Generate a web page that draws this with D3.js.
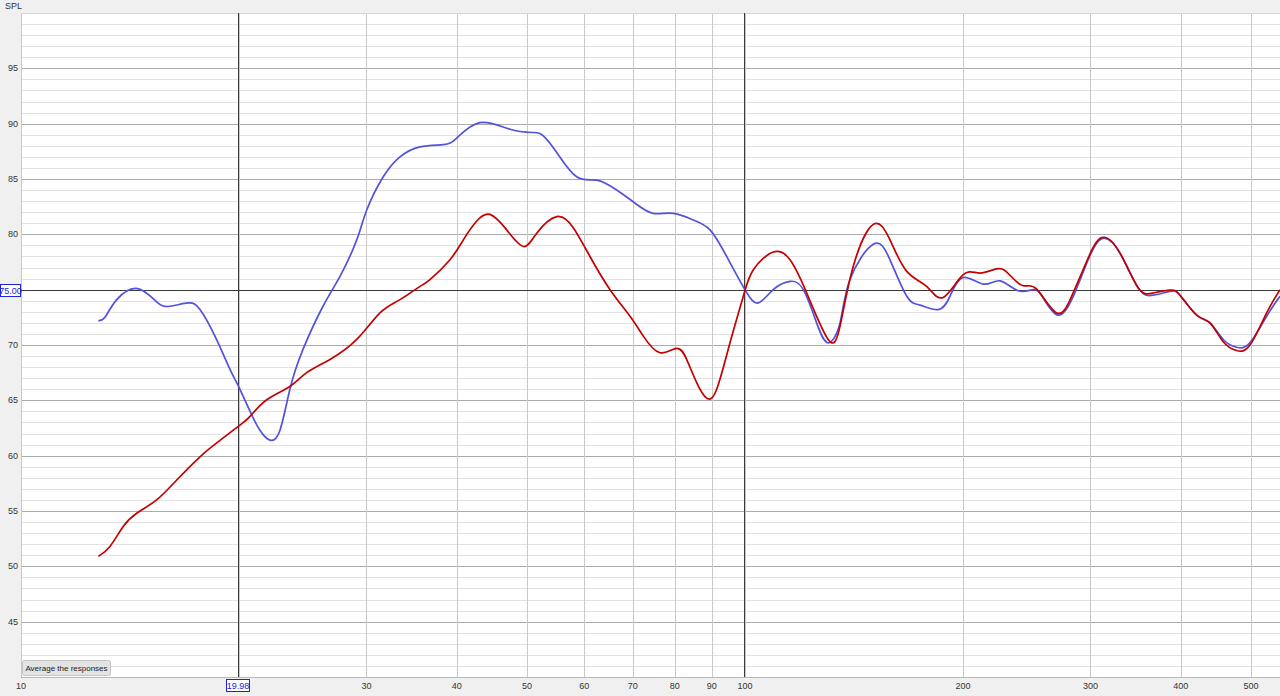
<!DOCTYPE html>
<html>
<head>
<meta charset="utf-8">
<script src="https://cdn.jsdelivr.net/npm/d3@7"></script>
<style>
  html, body { margin: 0; padding: 0; background: #f0f0f0; }
  svg { display: block; }
  text { font-family: "Liberation Sans", Arial, sans-serif; }
</style>
</head>
<body>
<svg id="chart" width="1280" height="696"></svg>
<script>
// ---- data ----
const blueFreq = [12.79,13.06,13.56,14.49,15.39,16.06,17.02,17.67,18.53,19.44,19.96,20.72,21.38,22.08,22.79,23.52,24.52,26.13,27.58,29.09,30.03,31.65,33.38,35.57,38.31,39.98,43.05,47.35,51.01,52.66,54.95,58.55,62.40,66.50,70.88,74.70,79.61,84.84,89.48,94.35,100,104.3,109.4,115.4,120.4,125.6,130.3,135.3,139.6,150.4,158.6,167.3,174.5,184.9,191.9,200.2,213.4,225.0,238.5,250.2,258.2,270.8,284.1,296.5,310.9,329.6,349.4,366.4,386.4,398.9,420.6,438.8,457.7,477.6,498.3,525.5,548.3];
const blueSpl  = [72.2,72.5,74.1,75.1,73.9,73.5,73.8,73.2,70.8,67.8,66.3,64.0,62.3,61.4,62.3,66.0,69.6,73.5,76.2,79.5,82.2,85.2,87.0,87.9,88.1,88.7,90.1,89.5,89.2,88.9,87.4,85.2,84.9,84.0,82.7,81.9,81.9,81.3,80.4,78.0,75.0,73.8,75.0,75.75,75.0,72.0,70.2,72.0,75.9,79.1,77.7,74.4,73.6,73.2,74.4,76.1,75.5,75.8,74.9,75.0,74.25,72.7,74.4,77.4,79.6,78.3,75.15,74.5,74.85,74.5,72.7,72.0,70.5,69.8,70.2,72.6,74.4];

const redFreq = [12.79,13.27,13.84,14.45,15.39,16.41,17.67,18.63,19.96,20.72,21.85,23.52,24.81,26.72,29.09,31.32,33.38,35.57,36.72,39.13,40.83,42.61,44.45,46.87,49.42,51.56,54.95,57.92,61.08,65.11,69.38,72.38,76.30,80.48,83.07,85.76,88.52,91.40,95.35,99.47,102.7,109.4,115.4,121.7,130.3,135.3,141.1,150.4,158.6,167.3,178.2,187.9,200.2,211.2,223.8,232.3,242.3,252.9,269.5,282.6,296.5,310.9,329.6,349.4,366.4,386.4,398.9,420.6,438.8,457.7,477.6,498.3,525.5,548.3];
const redSpl  = [50.9,51.8,53.6,54.8,56.0,57.8,59.9,61.15,62.65,63.55,65.05,66.25,67.5,68.7,70.5,72.9,74.1,75.3,75.9,77.7,79.5,81.2,81.8,80.4,78.9,80.1,81.6,80.6,78.0,75.0,72.6,70.8,69.3,69.7,68.7,66.6,65.2,66.0,70.2,74.4,76.8,78.4,77.7,74.7,70.5,71.7,77.1,80.9,79.5,76.65,75.3,74.3,76.35,76.5,76.9,76.3,75.35,75.05,72.9,74.4,77.55,79.7,78.3,75.15,74.7,74.95,74.5,72.7,72.0,70.3,69.5,70.0,72.9,75.0];

const yLabelTicks = [45,50,55,60,65,70,80,85,90,95];
const xGridTicks = [10,20,30,40,50,60,70,80,90,100,200,300,400,500];
const xLabelTicks = [10,30,40,50,60,70,80,90,100,200,300,400,500];
const cursorFreqs = [19.98, 100];
const cursorSpl = 75;
const yLabel = "SPL";
const buttonText = "Average the responses";

// ---- layout ----
const svg = d3.select("#chart");
const L = 21, R = 1280, T = 13, B = 677;
const x = d3.scaleLog().domain([10, 548.3]).range([L, R]);
const y = d3.scaleLinear().domain([40, 100]).range([B, T]);

svg.append("rect").attr("width", 1280).attr("height", 696).attr("fill", "#f0f0f0");
svg.append("rect").attr("x", L).attr("y", T).attr("width", R - L).attr("height", B - T).attr("fill", "#ffffff");

svg.append("defs").append("clipPath").attr("id", "clip")
  .append("rect").attr("x", L).attr("y", T).attr("width", R - L).attr("height", B - T);

const grid = svg.append("g").attr("clip-path", "url(#clip)");
grid.selectAll("line.hmin").data(d3.range(41, 100)).enter().append("line")
  .attr("x1", L).attr("x2", R)
  .attr("y1", d => Math.round(y(d)) + 0.5).attr("y2", d => Math.round(y(d)) + 0.5)
  .attr("stroke", d => d % 5 === 0 ? "#ababab" : "#e2e2e2").attr("stroke-width", 1);
grid.selectAll("line.v").data(xGridTicks).enter().append("line")
  .attr("x1", d => Math.round(x(d)) + 0.5).attr("x2", d => Math.round(x(d)) + 0.5)
  .attr("y1", T).attr("y2", B)
  .attr("stroke", "#c9c9c9").attr("stroke-width", 1);

svg.append("line").attr("x1", L + 0.5).attr("x2", L + 0.5).attr("y1", T).attr("y2", B).attr("stroke", "#c8c8c8");
svg.append("line").attr("x1", L).attr("x2", R).attr("y1", T + 0.5).attr("y2", T + 0.5).attr("stroke", "#d8d8d8");
svg.append("line").attr("x1", L).attr("x2", R).attr("y1", B + 0.5).attr("y2", B + 0.5).attr("stroke", "#b8b8b8");

const cur = svg.append("g").attr("clip-path", "url(#clip)");
cur.selectAll("line.cv").data(cursorFreqs).enter().append("line")
  .attr("x1", d => Math.round(x(d)) - 0.5).attr("x2", d => Math.round(x(d)) - 0.5)
  .attr("y1", T).attr("y2", B).attr("stroke", "#3a3a3a").attr("stroke-width", 1);
cur.append("line").attr("x1", L).attr("x2", R)
  .attr("y1", Math.round(y(cursorSpl)) + 0.5).attr("y2", Math.round(y(cursorSpl)) + 0.5)
  .attr("stroke", "#3a3a3a").attr("stroke-width", 1);

const line = d3.line().x(d => x(d[0])).y(d => y(d[1])).curve(d3.curveNatural);
const plot = svg.append("g").attr("clip-path", "url(#clip)");
plot.append("path").datum(d3.zip(blueFreq, blueSpl)).attr("d", line)
  .attr("fill", "none").attr("stroke", "#5252dc").attr("stroke-width", 1.7);
plot.append("path").datum(d3.zip(redFreq, redSpl)).attr("d", line)
  .attr("fill", "none").attr("stroke", "#c40000").attr("stroke-width", 1.7);

svg.append("text").attr("x", 5).attr("y", 9).attr("font-size", 9).attr("fill", "#333").text(yLabel);
svg.selectAll("text.yl").data(yLabelTicks).enter().append("text")
  .attr("x", 18).attr("y", d => y(d) + 3).attr("text-anchor", "end")
  .attr("font-size", 9).attr("fill", "#333").text(d => d);

svg.selectAll("text.xl").data(xLabelTicks).enter().append("text")
  .attr("x", d => x(d)).attr("y", 689).attr("text-anchor", "middle")
  .attr("font-size", 9).attr("fill", "#333").text(d => d);

const yc = y(cursorSpl);
svg.append("rect").attr("x", 0.5).attr("y", Math.round(yc) - 5.5).attr("width", 20).attr("height", 12)
  .attr("fill", "#ffffff").attr("stroke", "#2020e0");
svg.append("text").attr("x", 10.5).attr("y", Math.round(yc) + 3.5).attr("text-anchor", "middle")
  .attr("font-size", 9).attr("fill", "#2020e0").text(cursorSpl.toFixed(2));
const xc = x(cursorFreqs[0]);
svg.append("rect").attr("x", Math.round(xc) - 12.5).attr("y", 679.5).attr("width", 23).attr("height", 12)
  .attr("fill", "#ffffff").attr("stroke", "#2020e0");
svg.append("text").attr("x", Math.round(xc) - 1).attr("y", 689).attr("text-anchor", "middle")
  .attr("font-size", 9).attr("fill", "#2020e0").text(cursorFreqs[0].toFixed(2));

svg.append("rect").attr("x", 22.5).attr("y", 660.5).attr("width", 88).attr("height", 15).attr("rx", 2)
  .attr("fill", "#e3e3e3").attr("stroke", "#c4c4c4");
svg.append("text").attr("x", 66.5).attr("y", 671).attr("text-anchor", "middle")
  .attr("font-size", 8).attr("fill", "#222").text(buttonText);
</script>
</body>
</html>
